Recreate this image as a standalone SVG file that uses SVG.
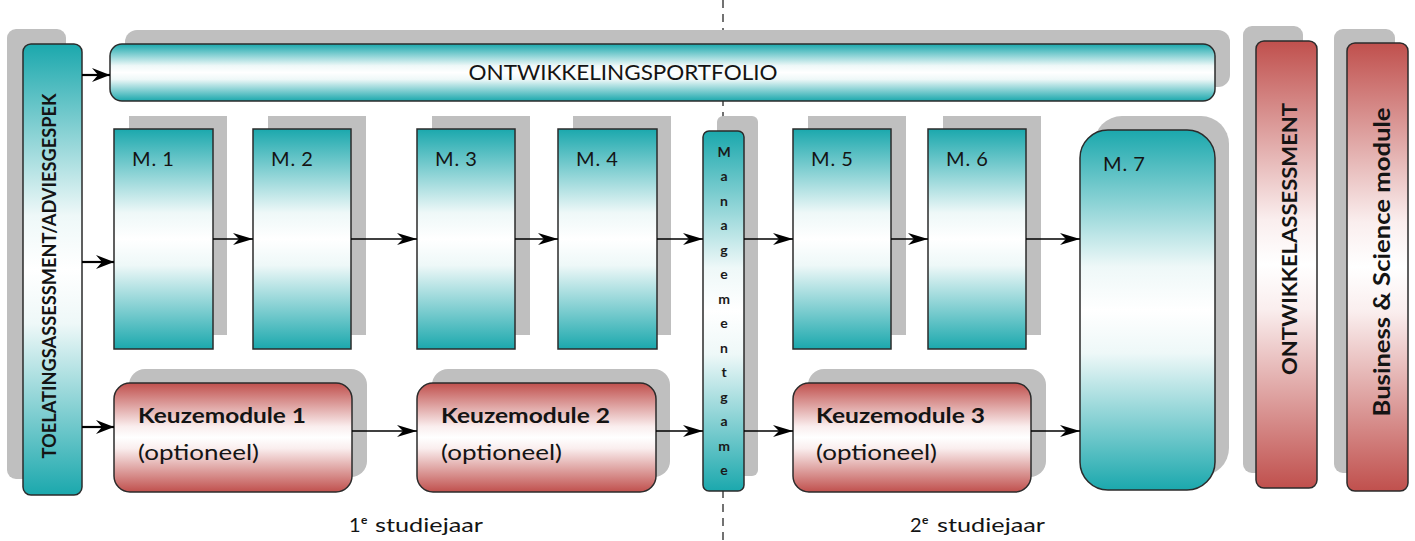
<svg xmlns="http://www.w3.org/2000/svg" width="1415" height="541" viewBox="0 0 1415 541">
<defs>
<linearGradient id="teal" x1="0" y1="0" x2="0" y2="1">
<stop offset="0" stop-color="#1ba8ad"/>
<stop offset="0.38" stop-color="#eef8f8"/>
<stop offset="0.5" stop-color="#ffffff"/>
<stop offset="0.62" stop-color="#eef8f8"/>
<stop offset="1" stop-color="#1ba8ad"/>
</linearGradient>
<linearGradient id="red" x1="0" y1="0" x2="0" y2="1">
<stop offset="0" stop-color="#c0504d"/>
<stop offset="0.4" stop-color="#faeeee"/>
<stop offset="0.5" stop-color="#ffffff"/>
<stop offset="0.6" stop-color="#faeeee"/>
<stop offset="1" stop-color="#c0504d"/>
</linearGradient>
<marker id="arr" markerUnits="userSpaceOnUse" markerWidth="20" markerHeight="12" refX="20" refY="6" orient="auto">
<path d="M0,0 L20,6 L0,12 L6,6 z" fill="#000"/>
</marker>
<marker id="arrB" markerUnits="userSpaceOnUse" markerWidth="18" markerHeight="14" refX="18" refY="7" orient="auto">
<path d="M0,0 L18,7 L0,14 L6,7 z" fill="#000"/>
</marker>
</defs>
<style>
.sh{fill:#bfbfbf}
.t{fill:url(#teal);stroke:#2b2b2b;stroke-width:1.5}
.r{fill:url(#red);stroke:#2b2b2b;stroke-width:1.5}
.lbl{font-family:Lato,"Open Sans","Liberation Sans",sans-serif;fill:#141414}
.m{font-size:20px;letter-spacing:1px}
.b{font-weight:bold}
.c{stroke:#000;stroke-width:1.5;fill:none;marker-end:url(#arr)}
.cb{stroke:#000;stroke-width:2.2;fill:none;marker-end:url(#arrB)}
.mg{font-family:Lato,"Open Sans","Liberation Sans",sans-serif;font-size:14px;font-weight:bold;fill:#1a1a1a;text-anchor:middle}
</style>
<rect width="1415" height="541" fill="#fff"/>
<line x1="723" y1="0" x2="723" y2="541" stroke="#444" stroke-width="1.5" stroke-dasharray="8,6"/>

<g id="toelating">
<rect class="sh" x="7" y="29" width="59" height="450" rx="9"/>
<rect class="t" x="23" y="44" width="59" height="451" rx="8"/>
<text class="lbl b" font-size="18" transform="translate(56,276) rotate(-90)" text-anchor="middle" textLength="365" lengthAdjust="spacingAndGlyphs">TOELATINGSASSESSMENT/ADVIESGESPEK</text>
</g>

<g id="portfolio">
<rect class="sh" x="125" y="30" width="1105" height="57" rx="12"/>
<rect class="t" x="110" y="44" width="1105" height="57" rx="12"/>
<text class="lbl" x="623" y="80" font-size="21" text-anchor="middle" textLength="309" lengthAdjust="spacingAndGlyphs">ONTWIKKELINGSPORTFOLIO</text>
</g>

<g id="m1">
<rect class="sh" x="129" y="116" width="98" height="219"/>
<rect class="t" x="114" y="129" width="99" height="220"/>
<text class="lbl m" x="132" y="166">M.<tspan dx="5">1</tspan></text>
</g>
<g id="m2">
<rect class="sh" x="268" y="116" width="98" height="219"/>
<rect class="t" x="253" y="129" width="98" height="220"/>
<text class="lbl m" x="271" y="166">M.<tspan dx="5">2</tspan></text>
</g>
<g id="m3">
<rect class="sh" x="432" y="116" width="98" height="219"/>
<rect class="t" x="417" y="129" width="98" height="220"/>
<text class="lbl m" x="435" y="166">M.<tspan dx="5">3</tspan></text>
</g>
<g id="m4">
<rect class="sh" x="573" y="116" width="98" height="219"/>
<rect class="t" x="558" y="129" width="99" height="220"/>
<text class="lbl m" x="576" y="166">M.<tspan dx="5">4</tspan></text>
</g>

<g id="managementgame">
<rect class="sh" x="717" y="116" width="41" height="360" rx="6"/>
<rect class="t" x="703" y="131" width="41" height="360" rx="6"/>
<text class="mg"><tspan x="724" y="157">M</tspan><tspan x="724" y="181">a</tspan><tspan x="724" y="206">n</tspan><tspan x="724" y="230">a</tspan><tspan x="724" y="255">g</tspan><tspan x="724" y="279">e</tspan><tspan x="724" y="304">m</tspan><tspan x="724" y="328">e</tspan><tspan x="724" y="353">n</tspan><tspan x="724" y="377">t</tspan><tspan x="724" y="402">g</tspan><tspan x="724" y="426">a</tspan><tspan x="724" y="451">m</tspan><tspan x="724" y="475">e</tspan></text>
</g>

<g id="m5">
<rect class="sh" x="808" y="116" width="98" height="219"/>
<rect class="t" x="793" y="129" width="98" height="220"/>
<text class="lbl m" x="811" y="166">M.<tspan dx="5">5</tspan></text>
</g>
<g id="m6">
<rect class="sh" x="943" y="116" width="98" height="219"/>
<rect class="t" x="928" y="129" width="98" height="220"/>
<text class="lbl m" x="946" y="166">M.<tspan dx="5">6</tspan></text>
</g>
<g id="m7">
<rect class="sh" x="1094" y="116" width="135" height="360" rx="28"/>
<rect class="t" x="1080" y="130" width="135" height="360" rx="28"/>
<text class="lbl m" x="1103" y="171">M.<tspan dx="5">7</tspan></text>
</g>

<g id="keuze1">
<rect class="sh" x="129" y="369" width="238" height="108" rx="16"/>
<rect class="r" x="114" y="383" width="238" height="109" rx="16"/>
<text class="lbl b" x="138" y="423" font-size="21" textLength="168" lengthAdjust="spacingAndGlyphs">Keuzemodule 1</text>
<text class="lbl" x="138" y="460" font-size="22" textLength="121" lengthAdjust="spacingAndGlyphs">(optioneel)</text>
</g>
<g id="keuze2">
<rect class="sh" x="432" y="369" width="238" height="108" rx="16"/>
<rect class="r" x="417" y="383" width="239" height="109" rx="16"/>
<text class="lbl b" x="441" y="423" font-size="21" textLength="169" lengthAdjust="spacingAndGlyphs">Keuzemodule 2</text>
<text class="lbl" x="441" y="460" font-size="22" textLength="121" lengthAdjust="spacingAndGlyphs">(optioneel)</text>
</g>
<g id="keuze3">
<rect class="sh" x="808" y="369" width="238" height="108" rx="16"/>
<rect class="r" x="793" y="383" width="238" height="109" rx="16"/>
<text class="lbl b" x="816" y="423" font-size="21" textLength="169" lengthAdjust="spacingAndGlyphs">Keuzemodule 3</text>
<text class="lbl" x="816" y="460" font-size="22" textLength="121" lengthAdjust="spacingAndGlyphs">(optioneel)</text>
</g>

<g id="ontwikkelassessment">
<rect class="sh" x="1243" y="26" width="60" height="447" rx="9"/>
<rect class="r" x="1256" y="41" width="61" height="447" rx="8"/>
<text class="lbl b" font-size="21" transform="translate(1297,239) rotate(-90)" text-anchor="middle" textLength="272" lengthAdjust="spacingAndGlyphs">ONTWIKKELASSESSMENT</text>
</g>
<g id="businessscience">
<rect class="sh" x="1334" y="29" width="61" height="444" rx="9"/>
<rect class="r" x="1347" y="43" width="61" height="448" rx="8"/>
<text class="lbl b" font-size="22" transform="translate(1390,262) rotate(-90)" text-anchor="middle" textLength="309" lengthAdjust="spacingAndGlyphs">Business &amp; Science module</text>
</g>

<g id="connectors">
<line class="cb" x1="82" y1="75" x2="110" y2="75"/>
<line class="cb" x1="82" y1="262" x2="114" y2="262"/>
<line class="cb" x1="82" y1="427" x2="114" y2="427"/>
<line class="c" x1="213" y1="239" x2="253" y2="239"/>
<line class="c" x1="351" y1="239" x2="417" y2="239"/>
<line class="c" x1="515" y1="239" x2="558" y2="239"/>
<line class="c" x1="657" y1="239" x2="703" y2="239"/>
<line class="c" x1="744" y1="239" x2="793" y2="239"/>
<line class="c" x1="891" y1="239" x2="928" y2="239"/>
<line class="c" x1="1026" y1="239" x2="1080" y2="239"/>
<line class="c" x1="352" y1="431" x2="417" y2="431"/>
<line class="c" x1="656" y1="431" x2="703" y2="431"/>
<line class="c" x1="744" y1="431" x2="793" y2="431"/>
<line class="c" x1="1031" y1="431" x2="1080" y2="431"/>
</g>

<g id="yearlabels">
<text class="lbl" font-size="20"><tspan x="349" y="532">1</tspan><tspan x="361" y="524" font-size="12" font-weight="bold">e</tspan></text>
<text class="lbl" x="375" y="532" font-size="20" textLength="108" lengthAdjust="spacingAndGlyphs">studiejaar</text>
<text class="lbl" font-size="20"><tspan x="910" y="532">2</tspan><tspan x="922" y="524" font-size="12" font-weight="bold">e</tspan></text>
<text class="lbl" x="937" y="532" font-size="20" textLength="108" lengthAdjust="spacingAndGlyphs">studiejaar</text>
</g>
</svg>
